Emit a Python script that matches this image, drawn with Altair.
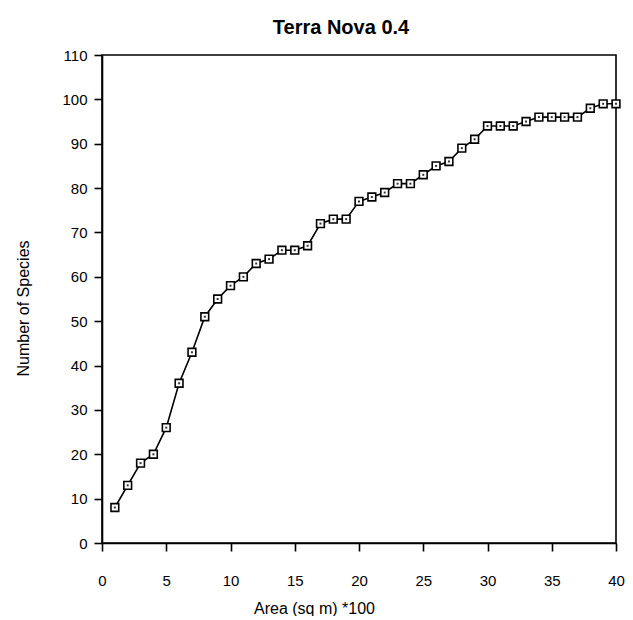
import altair as alt
import pandas as pd

area = list(range(1, 41))
species = [8, 13, 18, 20, 26, 36, 43, 51, 55, 58,
           60, 63, 64, 66, 66, 67, 72, 73, 73, 77,
           78, 79, 81, 81, 83, 85, 86, 89, 91, 94,
           94, 94, 95, 96, 96, 96, 96, 98, 99, 99]
x_ticks = list(range(0, 41, 5))
y_ticks = list(range(0, 111, 10))

df = pd.DataFrame({"area": area, "species": species})

FONT = "Liberation Sans"

x = alt.X(
    "area:Q",
    scale=alt.Scale(domain=[0, 40], nice=False),
    axis=alt.Axis(
        values=x_ticks, title="Area (sq m) *100", grid=False, labelFlush=False,
        labelPadding=22, tickSize=8, labelFontSize=15,
        titleFontSize=16, titleFontWeight="normal", titleFont=FONT,
        titleX=212, titleY=70, titleBaseline="alphabetic", titleAlign="center",
    ),
)
y = alt.Y(
    "species:Q",
    scale=alt.Scale(domain=[0, 110], nice=False),
    axis=alt.Axis(
        values=y_ticks, title="Number of Species", grid=False, labelFlush=False,
        labelPadding=7, tickSize=8, labelFontSize=15,
        titleFontSize=16, titleFontWeight="normal", titleFont=FONT,
        titleAngle=-90, titleX=-74, titleY=253, titleBaseline="alphabetic",
        titleAlign="center",
    ),
)

base = alt.Chart(df)
line = base.mark_line(color="black", strokeWidth=1.6).encode(x=x, y=y)
boxes = base.mark_point(
    shape="square", size=60, filled=False, fill="white", fillOpacity=1,
    stroke="black", strokeWidth=1.6, opacity=1,
).encode(x=x, y=y)
dots = base.mark_point(
    shape="square", size=4, filled=True, color="#333333", opacity=1,
).encode(x=x, y=y)

chart = (
    alt.layer(line, boxes, dots)
    .properties(
        width=514, height=488,
        title=alt.TitleParams(
            "Terra Nova 0.4", font=FONT, fontSize=20, fontWeight="bold",
            anchor="middle", dx=-18, offset=10, color="black",
        ),
        autosize=alt.AutoSizeParams(type="none"),
        padding={"left": 94, "top": 47, "right": 9, "bottom": 73},
    )
    .configure_view(stroke="black", strokeWidth=1.6)
    .configure_axis(
        domainColor="black", domainWidth=1.6, tickColor="black", tickWidth=1.6,
        labelColor="black", labelFont=FONT, titleColor="black",
    )
)

chart.save("out.html", embed_options={"renderer": "svg", "actions": False})
